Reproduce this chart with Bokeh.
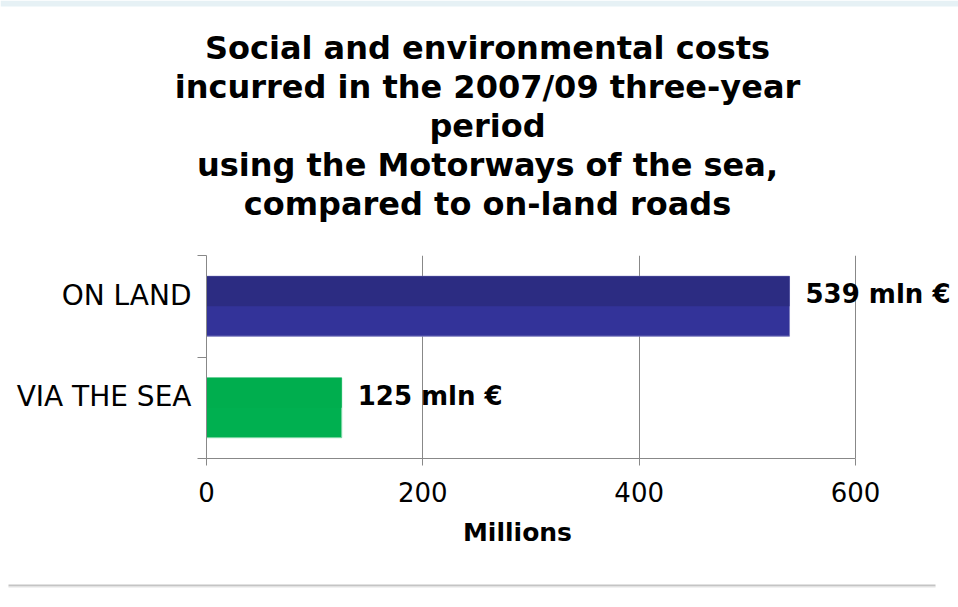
from bokeh.plotting import figure
from bokeh.layouts import column
from bokeh.models import Range1d, FixedTicker, Label, ColumnDataSource
from bokeh.core.properties import value
from bokeh.embed import file_html
from bokeh.resources import INLINE

# ---- data ----
categories = ["VIA THE SEA", "ON LAND"]
costs = [125, 539]
value_labels = ["125 mln €", "539 mln €"]
bar_colors = ["#00B050", "#333399"]
bar_top_colors = ["#00AE4E", "#2C2C82"]
bar_edge_colors = ["#7FD8A7", "#8080C0"]
x_ticks = [0, 200, 400, 600]
title_lines = [
    "Social and environmental costs",
    "incurred in the 2007/09 three-year",
    "period",
    "using the Motorways of the sea,",
    "compared to on-land roads",
]
x_axis_title = "Millions"

W = 958
FONT = "DejaVu Sans"
TITLE_H, MAIN_H, FOOT_H = 249, 269, 89


def blank_fig(h):
    f = figure(width=W, height=h, output_backend="svg", toolbar_location=None,
               x_range=Range1d(0, W), y_range=Range1d(h, 0),
               min_border=0, min_border_left=0, min_border_right=0,
               min_border_top=0, min_border_bottom=0, frame_align=False)
    f.axis.visible = False
    f.grid.visible = False
    f.outline_line_color = None
    return f


# ---------------- title block ----------------
t = blank_fig(TITLE_H)
t.quad(left=[0], right=[W], top=[0], bottom=[6], fill_color="#E6F1F5", line_color=None)
t.text(x=[487] * len(title_lines), y=[47 + 39 * i for i in range(len(title_lines))],
       text=title_lines, text_font=value(FONT), text_font_style="bold",
       text_font_size="32px", text_color="#000000", text_align="center",
       text_baseline="alphabetic")

# ---------------- main chart ----------------
ypos = list(range(len(categories)))
src = ColumnDataSource(dict(y=ypos, v=costs, c=bar_colors, ct=bar_top_colors,
                            ce=bar_edge_colors,
                            yt=[y + 0.1475 for y in ypos]))

frame_left, frame_px_600 = 206, 649
x_end = 600 * (W - frame_left) / frame_px_600
frame_bottom = 458 - TITLE_H

p = figure(width=W, height=MAIN_H, output_backend="svg", toolbar_location=None,
           x_range=Range1d(0, x_end), y_range=Range1d(-0.5, len(categories) - 0.5),
           min_border_left=frame_left, min_border_right=0, min_border_top=6,
           min_border_bottom=MAIN_H - frame_bottom, frame_align=False)
p.outline_line_color = None

p.hbar(y="y", right="v", left=0, height=0.59, fill_color="c", line_color="ce",
       line_width=1, source=src)
p.hbar(y="yt", right="v", left=0, height=0.295, fill_color="ct", line_color=None,
       source=src)

p.xaxis.ticker = FixedTicker(ticks=x_ticks)
p.xaxis.bounds = (x_ticks[0], x_ticks[-1])
p.xaxis.axis_line_color = "#888888"
p.xaxis.major_tick_line_color = "#888888"
p.xaxis.major_tick_out = 7
p.xaxis.major_tick_in = 0
p.xaxis.minor_tick_line_color = None
p.xaxis.major_label_text_font = FONT
p.xaxis.major_label_text_font_size = "26px"
p.xaxis.major_label_text_color = "#000000"
p.xaxis.major_label_standoff = 16

label_shift = 0.11
label_ticks = [y + label_shift for y in ypos]
p.yaxis.ticker = FixedTicker(ticks=label_ticks,
                             minor_ticks=[y - 0.5 for y in ypos] + [ypos[-1] + 0.5])
p.yaxis.bounds = (-0.5, len(categories) - 0.5)
p.yaxis.major_label_overrides = {tk: name for tk, name in zip(label_ticks, categories)}
p.yaxis.axis_line_color = "#888888"
p.yaxis.major_tick_line_color = None
p.yaxis.major_tick_out = 0
p.yaxis.major_tick_in = 0
p.yaxis.minor_tick_line_color = "#888888"
p.yaxis.minor_tick_out = 9
p.yaxis.minor_tick_in = 0
p.yaxis.major_label_standoff = 6
p.yaxis.major_label_text_font = FONT
p.yaxis.major_label_text_font_size = "28px"
p.yaxis.major_label_text_color = "#000000"

p.xgrid.ticker = FixedTicker(ticks=x_ticks)
p.xgrid.grid_line_color = "#888888"
p.xgrid.grid_line_width = 1
p.ygrid.grid_line_color = None

for y, v, txt in zip(ypos, costs, value_labels):
    p.add_layout(Label(x=v, y=y, text=txt, x_offset=16, y_offset=12,
                       text_font=FONT, text_font_style="bold", text_font_size="26px",
                       text_color="#000000", text_align="left",
                       text_baseline="alphabetic"))

# ---------------- axis title + bottom rule ----------------
foot_top = TITLE_H + MAIN_H
r = blank_fig(FOOT_H)
r.text(x=[517], y=[532 - foot_top], text=[x_axis_title], text_font=value(FONT),
       text_font_style="bold", text_font_size="25px", text_color="#000000",
       text_align="center", text_baseline="alphabetic")
r.quad(left=[8], right=[935], top=[584 - foot_top], bottom=[586 - foot_top],
       fill_color="#C4C4C4", line_color=None)
r.quad(left=[8], right=[935], top=[586 - foot_top], bottom=[587 - foot_top],
       fill_color="#E4E4E4", line_color=None)

layout = column(t, p, r, spacing=0)
open("out.html", "w").write(file_html(layout, INLINE))
